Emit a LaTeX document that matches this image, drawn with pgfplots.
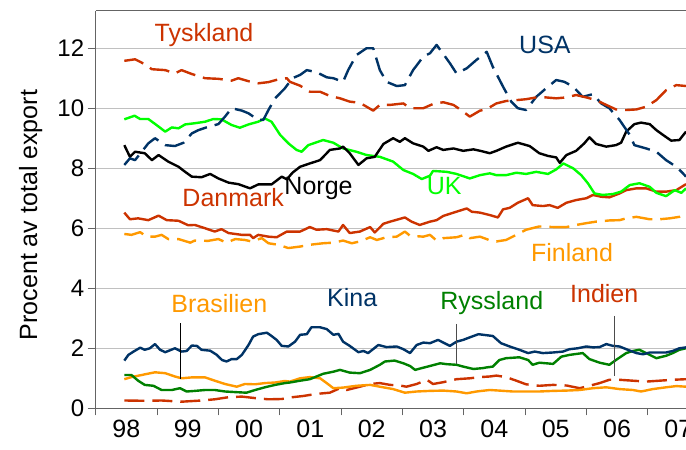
\documentclass[border=0pt]{standalone}
\usepackage{fontspec}
\setmainfont{Liberation Sans}
\usepackage{pgfplots}
\pgfplotsset{compat=1.18}
\definecolor{cRed}{RGB}{204,51,0}
\definecolor{cBlue}{RGB}{0,51,102}
\definecolor{cLime}{RGB}{0,255,0}
\definecolor{cGreen}{RGB}{0,128,0}
\definecolor{cOrange}{RGB}{255,153,0}
\definecolor{cGrid}{RGB}{192,192,192}
\definecolor{cAxis}{RGB}{100,100,100}
\begin{document}
\begin{tikzpicture}
\begin{axis}[
  at={(0,0)}, anchor=south west,
  scale only axis, width=590.3bp, height=397.3bp,
  xmin=0, xmax=115.5, ymin=0, ymax=13.24,
  axis lines=left, axis line style={-, cAxis, line width=1bp},
  tick align=outside,
  ytick={0,2,...,12},
  xtick={6,18,...,114},
  xticklabels={98,99,00,01,02,03,04,05,06,07},
  minor xtick={0,12,...,108},
  major tick length=8bp, minor tick length=7bp,
  major x tick style={draw=none},
  minor x tick style={cAxis, line width=1bp},
  major y tick style={cAxis, line width=1bp},
  ymajorgrids, grid style={cGrid, line width=1.2bp},
  /pgf/number format/assume math mode=true,
  yticklabel style={font=\fontsize{24bp}{28bp}\selectfont, text=black},
  xticklabel style={font=\fontsize{25bp}{29bp}\selectfont, text=black},
  ylabel={Procent av total export},
  ylabel style={font=\fontsize{25bp}{30bp}\selectfont, at={(axis description cs:-0.11,0.4865)}, anchor=center},
  every axis plot/.append style={line width=2.4bp, line join=round},
  clip=true,
]
% Indien
\addplot[cRed, dash pattern=on 20bp off 8bp] coordinates {
(5.6,0.26)(9.6,0.25)(12.9,0.26)(16.8,0.22)(20.7,0.26)(23.3,0.3)(26.0,0.37)(28.6,0.39)(31.2,0.34)(33.8,0.3)(36.4,0.31)
(38.5,0.37)(40.6,0.41)(43.2,0.48)(45.8,0.52)(47.8,0.67)(49.1,0.61)(51.7,0.72)(53.7,0.81)(55.6,0.84)(57.6,0.78)(59.5,0.76)(60.8,0.72)(62.8,0.81)(64.8,0.95)(66.0,0.81)(68.0,0.87)(70.6,0.97)(73.2,1.0)(75.2,1.04)(77.1,1.06)
(78.4,1.09)(80.3,1.04)(82.3,0.92)(84.2,0.8)(86.8,0.75)(89.5,0.78)(92.1,0.76)(94.7,0.67)(96.6,0.75)(98.6,0.84)(100.5,0.95)(102.5,0.95)(105.1,0.92)(107.7,0.89)(110.3,0.92)(112.9,0.95)(115.5,0.97)
};
% Brasilien
\addplot[cOrange] coordinates {
(5.6,0.97)(7.0,1.04)(9.0,1.11)(11.6,1.2)(13.6,1.17)(15.5,1.06)(16.8,1.0)(18.8,1.03)(21.4,1.03)(23.3,0.92)(25.3,0.81)(27.6,0.72)(29.2,0.81)(31.2,0.8)(33.1,0.84)(35.1,0.86)(37.0,0.91)
(38.0,0.89)(40.0,1.0)(41.9,1.04)(43.9,1.0)(45.2,0.84)(46.5,0.67)(48.4,0.69)(51.0,0.75)(53.7,0.78)(55.6,0.72)(58.2,0.64)(60.5,0.52)(62.8,0.56)(65.4,0.58)(68.0,0.59)(70.6,0.56)(72.6,0.5)(74.5,0.56)(77.1,0.61)
(79.0,0.59)(81.6,0.56)(84.2,0.56)(86.8,0.56)(89.5,0.58)(92.1,0.59)(94.7,0.61)(97.3,0.67)(99.9,0.7)(102.5,0.64)(105.1,0.61)(106.7,0.56)(109.0,0.64)(111.6,0.7)(113.6,0.74)(115.5,0.72)
};
% Ryssland
\addplot[cGreen] coordinates {
(5.6,1.11)(7.0,1.11)(8.3,0.92)(9.6,0.78)(11.3,0.75)(12.9,0.61)(14.9,0.61)(16.5,0.67)(17.8,0.56)(19.4,0.58)(21.4,0.61)(23.3,0.61)(25.3,0.56)(27.3,0.54)(29.5,0.52)(31.2,0.61)(33.1,0.7)(35.1,0.78)(37.0,0.84)
(38.0,0.86)(40.0,0.92)(41.9,0.97)(44.5,1.15)(46.5,1.22)(47.8,1.28)(49.7,1.19)(51.7,1.17)(53.7,1.28)(55.6,1.45)(56.6,1.56)(58.5,1.59)(60.2,1.5)(61.5,1.41)(62.5,1.28)(63.8,1.34)(65.4,1.41)(67.4,1.5)(68.7,1.47)(70.6,1.45)(71.9,1.39)(73.9,1.31)(75.8,1.34)
(76.4,1.36)(77.7,1.39)(79.0,1.61)(80.3,1.67)(82.9,1.7)(84.6,1.61)(85.5,1.45)(86.8,1.52)(89.5,1.48)(91.1,1.72)(92.7,1.78)(95.3,1.84)(96.6,1.64)(98.6,1.52)(100.5,1.45)(101.8,1.61)(103.8,1.84)(105.1,1.91)(106.4,1.95)(108.4,1.78)(109.7,1.67)(111.6,1.75)(112.9,1.84)(114.2,1.95)(115.5,2.0)
};
% Kina
\addplot[cBlue] coordinates {
(5.6,1.59)(6.4,1.78)(7.4,1.89)(8.7,2.02)(9.6,1.95)(10.6,2.0)(11.6,2.14)(12.6,1.95)(13.6,1.87)(15.5,2.0)(16.8,1.89)(17.8,1.91)(18.8,2.09)(19.8,2.08)(20.7,1.95)(22.4,1.92)(23.7,1.78)(24.7,1.61)(25.6,1.56)(26.6,1.64)(27.6,1.64)(28.6,1.78)(29.9,2.11)(30.8,2.39)(31.8,2.47)(33.5,2.52)(34.4,2.41)(35.4,2.28)(36.4,2.08)(37.7,2.06)
(39.0,2.22)(40.0,2.45)(41.3,2.47)(42.2,2.7)(43.9,2.7)(45.2,2.64)(46.5,2.45)(47.5,2.48)(48.4,2.22)(49.7,2.08)(51.4,1.87)(52.4,1.91)(53.3,1.84)(55.3,2.11)(56.9,2.04)(58.9,2.06)(60.2,1.97)(61.5,1.84)(62.8,2.11)(64.1,2.19)(65.4,2.17)(67.0,2.28)(68.0,2.19)(69.3,2.08)(70.6,2.22)(71.9,2.28)(73.6,2.39)(74.9,2.47)(75.8,2.45)
(77.7,2.41)(79.3,2.17)(81.0,2.06)(82.9,1.95)(84.6,1.84)(85.9,1.89)(87.5,1.84)(89.5,1.86)(91.4,1.89)(92.7,1.97)(94.3,2.0)(96.0,2.06)(97.3,2.03)(98.6,2.04)(99.9,2.14)(101.2,2.08)(102.5,2.06)(104.1,1.95)(105.8,1.84)(107.1,1.8)(108.4,1.86)(109.7,1.86)(111.6,1.86)(112.9,1.91)(114.2,2.0)(115.5,2.03)
};
% Finland
\addplot[cOrange, dash pattern=on 20bp off 8bp] coordinates {
(5.6,5.81)(7.0,5.78)(8.7,5.87)(10.0,5.72)(11.6,5.72)(12.9,5.78)(14.2,5.64)(16.2,5.64)(18.5,5.52)(19.4,5.59)(22.0,5.58)(24.0,5.64)(25.6,5.52)(27.3,5.64)(29.2,5.61)(30.5,5.56)(32.5,5.67)(33.8,5.5)(35.7,5.45)(37.7,5.34)
(40.0,5.39)(41.9,5.45)(44.5,5.5)(46.5,5.52)(48.4,5.59)(50.1,5.5)(51.7,5.56)(53.7,5.7)(55.0,5.61)(56.9,5.7)(58.9,5.72)(60.5,5.89)(61.5,5.75)(64.1,5.72)(65.4,5.78)(66.7,5.59)(68.0,5.67)(70.6,5.7)(72.2,5.78)(73.2,5.67)(75.2,5.72)(77.1,5.6)
(78.4,5.56)(80.3,5.61)(82.3,5.78)(84.2,5.95)(86.8,6.06)(89.5,6.04)(92.1,6.04)(94.0,6.11)(96.0,6.17)(97.9,6.22)(100.5,6.26)(102.5,6.27)(103.8,6.33)(105.8,6.38)(108.4,6.3)(110.3,6.3)(112.3,6.33)(114.2,6.38)(115.5,6.5)
};
% Danmark
\addplot[cRed] coordinates {
(5.6,6.52)(6.7,6.3)(8.3,6.33)(10.3,6.27)(12.3,6.42)(13.9,6.27)(16.2,6.25)(18.1,6.1)(19.4,6.11)(21.4,6.0)(23.3,5.89)(24.6,5.97)(26.0,5.84)(28.6,5.78)(30.2,5.78)(30.8,5.67)(31.8,5.78)(33.8,5.72)(35.4,5.7)(37.4,5.89)(39.0,5.89)
(40.0,5.89)(41.9,6.04)(43.2,5.95)(45.2,5.97)(47.5,5.89)(48.4,6.11)(49.7,5.84)(51.7,5.89)(53.7,6.04)(54.6,5.86)(56.3,6.15)(57.6,6.22)
(60.5,6.36)(61.8,6.22)(63.4,6.11)(65.4,6.22)(66.7,6.27)(68.0,6.41)(70.0,6.52)(72.6,6.66)(73.6,6.55)(75.2,6.52)(77.1,6.44)
(78.7,6.36)(79.7,6.63)(81.0,6.68)(82.6,6.85)(84.6,7.0)(85.5,6.77)(87.5,6.74)(88.8,6.77)(90.4,6.68)(92.1,6.85)(94.0,6.94)(96.0,7.0)(97.3,7.11)(98.9,7.05)(100.5,7.03)(102.5,7.16)(103.8,7.27)(105.8,7.33)(107.7,7.33)(109.7,7.22)(111.6,7.22)(113.6,7.27)(115.5,7.47)
};
% UK
\addplot[cLime] coordinates {
(5.6,9.63)(7.6,9.75)(8.7,9.64)(10.3,9.64)(11.9,9.44)(13.6,9.22)(14.9,9.36)(16.2,9.33)(17.5,9.46)(19.4,9.5)(21.4,9.55)(23.0,9.64)(24.6,9.63)(26.6,9.44)(28.2,9.35)(29.9,9.46)(31.8,9.55)(33.1,9.66)(34.4,9.55)(36.1,9.11)(37.7,8.83)
(39.3,8.61)(40.3,8.55)(41.6,8.77)(44.5,8.94)(46.5,8.85)(48.4,8.66)(51.0,8.55)(53.0,8.44)(55.6,8.38)(58.2,8.22)(60.2,7.94)(62.1,7.81)(63.8,7.64)(65.4,7.75)(66.0,7.91)(68.7,7.88)(70.6,7.81)(73.2,7.66)(75.2,7.77)(77.1,7.83)
(78.4,7.77)(80.3,7.77)(82.3,7.85)(84.2,7.81)(86.2,7.88)(88.5,7.81)(90.1,7.96)(91.5,8.16)(93.4,8.0)(95.0,7.77)(96.3,7.5)(97.6,7.16)(99.2,7.11)(101.2,7.14)(102.8,7.22)(104.5,7.44)(106.4,7.5)(108.4,7.38)(109.7,7.18)(111.6,7.07)(113.3,7.27)(114.6,7.18)(115.5,7.33)
};
% Norge
\addplot[black] coordinates {
(5.6,8.77)(6.7,8.38)(7.7,8.55)(9.6,8.5)(11.0,8.27)(12.3,8.44)(14.2,8.22)(16.2,8.05)(17.5,7.88)(18.8,7.72)(20.7,7.7)(22.4,7.81)(24.0,7.66)(26.0,7.52)(27.9,7.47)(30.2,7.33)(31.8,7.46)(34.4,7.46)(36.4,7.72)(37.4,7.63)
(38.5,7.85)(40.0,8.05)(41.9,8.16)(43.9,8.27)(45.2,8.5)(45.8,8.61)(47.8,8.66)(48.4,8.72)(49.7,8.5)(51.4,8.11)(53.0,8.33)(54.6,8.38)(56.3,8.81)(58.2,9.0)(59.5,8.88)(60.5,9.0)(62.1,8.83)(64.1,8.72)(65.1,8.58)(66.7,8.7)(68.0,8.61)(70.0,8.66)(71.9,8.58)(73.9,8.63)(75.5,8.57)(77.1,8.5)
(78.4,8.58)(80.3,8.72)(82.6,8.85)(84.9,8.74)(86.8,8.5)(88.5,8.41)(90.1,8.36)(90.8,8.18)(92.1,8.44)(94.0,8.58)(95.6,8.83)(96.6,9.03)(97.9,8.81)(99.9,8.72)(101.8,8.77)(102.8,8.85)(103.8,9.22)(105.4,9.47)(106.7,9.52)(108.4,9.47)(109.7,9.27)(111.0,9.11)(112.6,8.92)(114.2,8.94)(115.5,9.22)
};
% USA
\addplot[cBlue, dash pattern=on 20bp off 8bp] coordinates {
(5.6,8.11)(6.7,8.33)(7.7,8.27)(9.0,8.55)(10.3,8.83)(11.6,9.0)(13.6,8.77)(15.5,8.74)(17.2,8.85)(18.8,9.16)(20.1,9.27)(22.0,9.38)(24.0,9.47)(25.3,9.72)(26.6,10.0)(28.6,9.92)(29.9,9.83)(31.8,9.61)(32.8,9.61)(33.8,9.94)(35.1,10.33)(37.0,10.66)(38.5,11.0)
(40.0,11.11)(41.3,11.27)(43.2,11.2)(45.2,11.03)(46.5,11.0)(48.4,10.88)(49.4,11.27)(51.0,11.77)(53.0,12.0)(54.3,12.0)(55.6,11.27)(56.9,10.88)(58.9,10.74)(60.5,10.77)(62.1,11.27)(64.1,11.72)(65.4,11.83)(66.7,12.11)(68.0,11.81)(69.3,11.5)(70.6,11.16)(72.6,11.33)(74.5,11.61)(76.5,11.88)
(77.7,11.38)(79.7,10.72)(81.3,10.22)(82.6,10.0)(84.2,9.94)(86.2,10.38)(88.1,10.66)(90.1,10.94)(91.7,10.88)(93.4,10.72)(95.3,10.38)(97.3,10.47)(98.9,10.16)(100.5,10.0)(102.5,9.61)(104.5,9.11)(105.4,8.77)(107.7,8.66)(109.7,8.55)(111.6,8.27)(113.6,8.05)(114.9,7.83)(115.5,7.72)
};
% Tyskland
\addplot[cRed, dash pattern=on 20bp off 8bp] coordinates {
(5.6,11.58)(7.7,11.63)(9.0,11.52)(11.0,11.3)(13.6,11.27)(15.5,11.16)(16.8,11.27)(18.8,11.14)(21.4,11.0)(24.0,10.98)(26.6,10.92)(27.9,11.0)(29.9,10.9)(31.8,10.83)(33.8,10.87)(35.7,10.96)(37.4,11.0)
(38.0,10.88)(40.0,10.75)(41.9,10.55)(43.9,10.55)(45.8,10.41)(47.8,10.33)(49.7,10.22)(51.7,10.18)(54.3,9.92)(55.6,10.11)(57.6,10.11)(60.2,10.16)(61.5,10.0)(64.1,10.0)(66.0,10.14)(68.0,10.2)(70.0,10.11)(71.3,9.96)(73.2,9.72)(75.2,9.92)
(76.4,9.96)(78.4,10.16)(80.3,10.24)(82.3,10.27)(84.2,10.3)(86.2,10.36)(88.1,10.36)(90.1,10.33)(92.1,10.36)(94.0,10.44)(96.0,10.36)(97.9,10.27)(99.9,10.11)(101.8,9.96)(103.8,9.94)(105.8,9.96)(107.7,10.05)(109.7,10.27)(111.6,10.6)(113.6,10.77)(115.5,10.74)
};
% top border
\draw[cAxis, line width=1bp] (rel axis cs:0,1) -- (rel axis cs:1,1);
% leader lines
\draw[black, line width=1bp] (axis cs:16.5,2.84) -- (axis cs:16.5,0.98);
\draw[black!70, line width=1bp] (axis cs:70.5,2.81) -- (axis cs:70.5,1.48);
\draw[black!70, line width=1bp] (axis cs:101.6,3.08) -- (axis cs:101.6,1.08);
% labels
\begin{scope}[every node/.style={anchor=base, inner sep=0pt, font=\fontsize{25bp}{30bp}\selectfont}]
\node[text=cRed] at (axis cs:21.2,12.24) {Tyskland};
\node[text=cBlue] at (axis cs:87.9,11.83) {USA};
\node[text=black] at (axis cs:43.6,7.11) {Norge};
\node[text=cRed] at (axis cs:26.9,6.72) {Danmark};
\node[text=cLime] at (axis cs:68.2,7.11) {UK};
\node[text=cOrange] at (axis cs:93.2,4.89) {Finland};
\node[text=cOrange] at (axis cs:24.2,3.2) {Brasilien};
\node[text=cBlue] at (axis cs:50.2,3.39) {Kina};
\node[text=cGreen] at (axis cs:77.5,3.28) {Ryssland};
\node[text=cRed] at (axis cs:99.5,3.52) {Indien};
\end{scope}
\end{axis}
\pgfresetboundingbox
\useasboundingbox (-95.7bp,-41.7bp) rectangle (590.3bp,408.3bp);
\end{tikzpicture}
\end{document}
